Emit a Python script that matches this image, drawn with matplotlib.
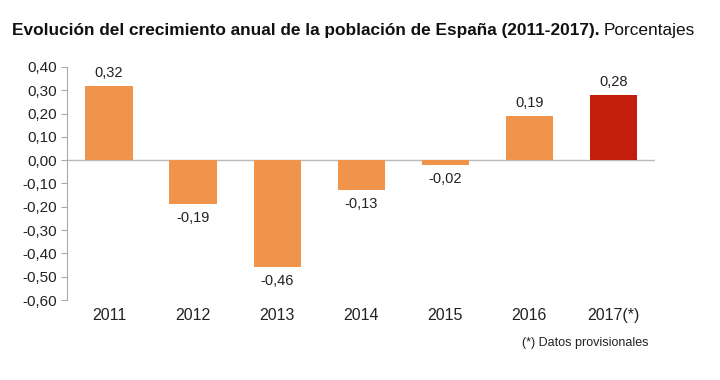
import matplotlib
matplotlib.use("Agg")
import matplotlib.pyplot as plt
from matplotlib.ticker import FuncFormatter

plt.rcParams['font.family'] = ['Liberation Sans', 'DejaVu Sans']

years = ["2011", "2012", "2013", "2014", "2015", "2016", "2017(*)"]
values = [0.32, -0.19, -0.46, -0.13, -0.02, 0.19, 0.28]
colors = ["#EF944A"] * 6 + ["#C21E0B"]
yticks = [0.40, 0.30, 0.20, 0.10, 0.00, -0.10, -0.20, -0.30, -0.40, -0.50, -0.60]

fig = plt.figure(figsize=(7.2, 3.8), dpi=100)
ax = fig.add_axes([0.093, 0.2105, 0.817, 0.6135])

x = list(range(len(years)))
ax.bar(x, values, width=0.56, color=colors, zorder=2)
ax.axhline(0, color="#BBBBBB", lw=1, zorder=1)
ax.set_xlim(-0.5, len(years) - 0.5)
ax.set_ylim(-0.60, 0.40)
ax.set_yticks(yticks)
ax.yaxis.set_major_formatter(FuncFormatter(lambda v, p: f"{v:.2f}".replace(".", ",").replace("-0,00", "0,00")))
ax.tick_params(axis='y', direction='out', length=4, color="#AAAAAA", labelsize=11, labelcolor="#222222", pad=3)
ax.set_xticks(x)
ax.set_xticklabels(years)
ax.tick_params(axis='x', length=0, labelsize=11.5, labelcolor="#222222", pad=6)
for s in ["top", "right", "bottom"]:
    ax.spines[s].set_visible(False)
ax.spines["left"].set_color("#AAAAAA")

for xi, v in zip(x, values):
    lab = f"{v:.2f}".replace(".", ",")
    if v >= 0:
        ax.annotate(lab, (xi, v), xytext=(0, 4), textcoords="offset points", ha="center", va="bottom", fontsize=10.5, color="#222222")
    else:
        ax.annotate(lab, (xi, v), xytext=(0, -5), textcoords="offset points", ha="center", va="top", fontsize=10.5, color="#222222")

t1 = fig.text(12/720, 1 - 31/380, "Evolución del crecimiento anual de la población de España (2011-2017).",
              fontsize=12.4, fontweight="bold", ha="left", va="center", color="#111111")
fig.canvas.draw()
bb = t1.get_window_extent()
fig.text((bb.x1 + 4) / 720, 1 - 31/380, "Porcentajes", fontsize=12.4, ha="left", va="center", color="#111111")

fig.text(648/720, 1 - 343/380, "(*) Datos provisionales", fontsize=9, ha="right", va="center", color="#222222")

fig.savefig("out.png", dpi=100, facecolor="white")
